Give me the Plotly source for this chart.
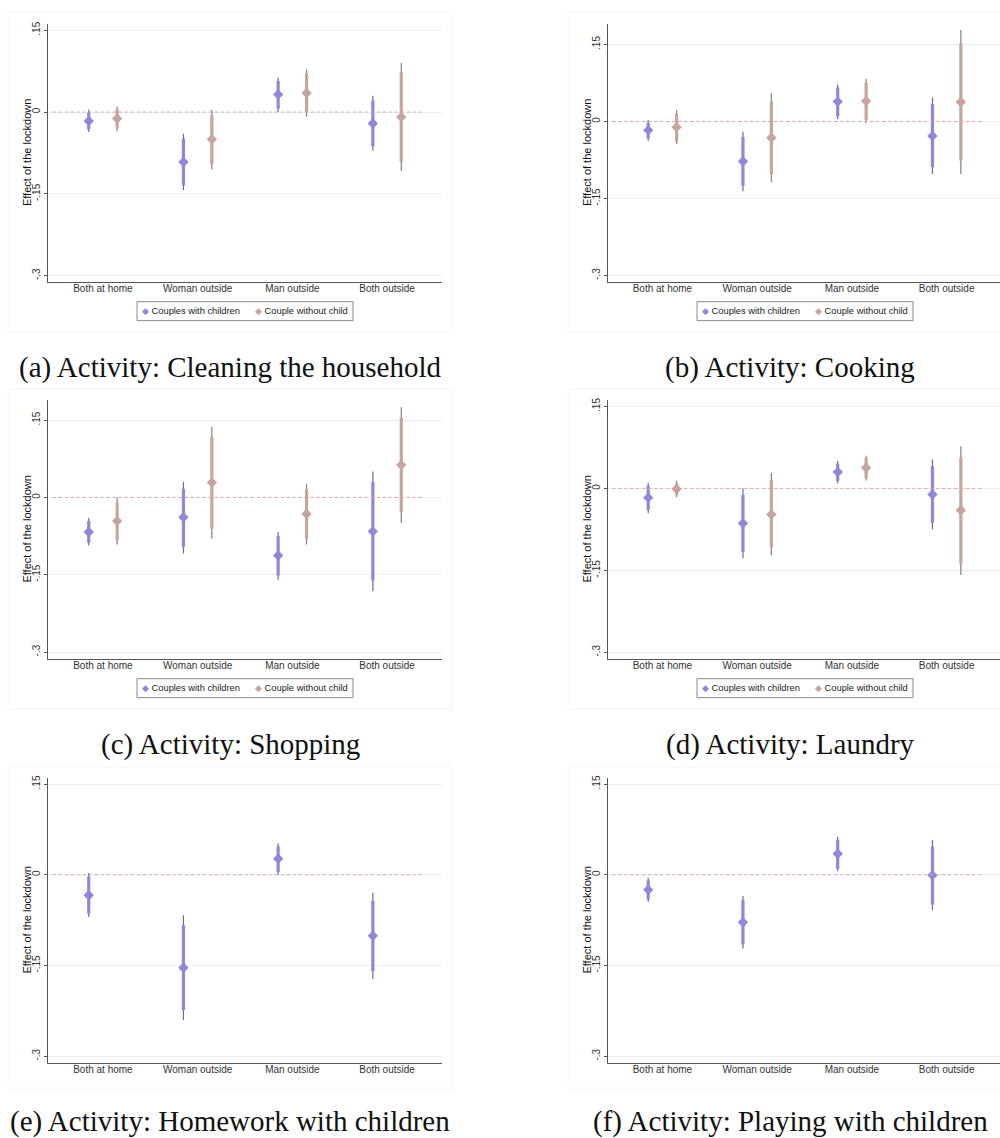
import plotly.graph_objects as go

# ---------------- data ----------------
categories = ["Both at home", "Woman outside", "Man outside", "Both outside"]
series_names = ["Couples with children", "Couple without child"]

y_tick_vals = [0.15, 0, -0.15, -0.3]
y_tick_text = [".15", "0", "-.15", "-.3"]

captions = [
    "(a) Activity: Cleaning the household",
    "(b) Activity: Cooking",
    "(c) Activity: Shopping",
    "(d) Activity: Laundry",
    "(e) Activity: Homework with children",
    "(f) Activity: Playing with children",
]

# (a) Cleaning
clean_kids_coef = [-0.0165, -0.0915, 0.032, -0.021]
clean_kids_lo90 = [-0.032, -0.134, 0.006, -0.063]
clean_kids_hi90 = [-0.001, -0.049, 0.057, 0.021]
clean_kids_lo95 = [-0.0366, -0.143, 0.0, -0.071]
clean_kids_hi95 = [0.004, -0.040, 0.063, 0.030]
clean_nokid_coef = [-0.012, -0.050, 0.035, -0.009]
clean_nokid_lo90 = [-0.030, -0.096, -0.001, -0.091]
clean_nokid_hi90 = [0.005, -0.006, 0.071, 0.073]
clean_nokid_lo95 = [-0.035, -0.105, -0.0085, -0.108]
clean_nokid_hi95 = [0.0098, 0.004, 0.078, 0.090]

# (b) Cooking
cook_kids_coef = [-0.0168, -0.0776, 0.0388, -0.028]
cook_kids_lo90 = [-0.033, -0.125, 0.0097, -0.089]
cook_kids_hi90 = [-0.002, -0.030, 0.066, 0.0336]
cook_kids_lo95 = [-0.0375, -0.136, 0.0045, -0.102]
cook_kids_hi95 = [0.003, -0.020, 0.072, 0.0466]
cook_nokid_coef = [-0.011, -0.0317, 0.040, 0.038]
cook_nokid_lo90 = [-0.039, -0.103, 0.003, -0.076]
cook_nokid_hi90 = [0.0155, 0.0388, 0.0756, 0.152]
cook_nokid_lo95 = [-0.044, -0.118, -0.003, -0.102]
cook_nokid_hi95 = [0.022, 0.055, 0.083, 0.178]

# (c) Shopping
shop_kids_coef = [-0.067, -0.0387, -0.1128, -0.066]
shop_kids_lo90 = [-0.088, -0.096, -0.1515, -0.161]
shop_kids_hi90 = [-0.046, 0.0168, -0.0754, 0.0297]
shop_kids_lo95 = [-0.0935, -0.109, -0.160, -0.182]
shop_kids_hi95 = [-0.040, 0.0297, -0.067, 0.050]
shop_nokid_coef = [-0.046, 0.029, -0.032, 0.063]
shop_nokid_lo90 = [-0.084, -0.0606, -0.0806, -0.029]
shop_nokid_hi90 = [-0.0097, 0.1167, 0.016, 0.1547]
shop_nokid_lo95 = [-0.0915, -0.080, -0.0915, -0.0496]
shop_nokid_hi95 = [0.0, 0.137, 0.026, 0.1747]

# (d) Laundry
laun_kids_coef = [-0.017, -0.064, 0.030, -0.011]
laun_kids_lo90 = [-0.040, -0.1165, 0.0134, -0.0628]
laun_kids_hi90 = [0.0043, -0.012, 0.045, 0.041]
laun_kids_lo95 = [-0.0457, -0.128, 0.009, -0.075]
laun_kids_hi95 = [0.0104, 0.0, 0.050, 0.053]
laun_nokid_coef = [-0.0012, -0.0476, 0.0378, -0.040]
laun_nokid_lo90 = [-0.012, -0.1085, 0.018, -0.1378]
laun_nokid_hi90 = [0.009, 0.0152, 0.056, 0.056]
laun_nokid_lo95 = [-0.016, -0.1226, 0.0146, -0.1585]
laun_nokid_hi95 = [0.0134, 0.0287, 0.060, 0.0774]

# (e) Homework with children
home_kids_coef = [-0.034, -0.1538, 0.0264, -0.101]
home_kids_lo90 = [-0.064, -0.2236, 0.0044, -0.159]
home_kids_hi90 = [-0.0027, -0.0835, 0.047, -0.0434]
home_kids_lo95 = [-0.0698, -0.240, 0.0, -0.1725]
home_kids_hi95 = [0.0027, -0.067, 0.052, -0.0297]

# (f) Playing with children
play_kids_coef = [-0.0247, -0.0785, 0.0346, -0.001]
play_kids_lo90 = [-0.041, -0.115, 0.0099, -0.049]
play_kids_hi90 = [-0.0093, -0.042, 0.0577, 0.0467]
play_kids_lo95 = [-0.045, -0.122, 0.006, -0.0588]
play_kids_hi95 = [-0.005, -0.035, 0.063, 0.0577]

# ---------------- styling ----------------
PURPLE = "#8e88da"
PURPLE_THIN = "#6c6a9a"
BROWN = "#c6a59d"
BROWN_THIN = "#8d7c78"
GRID = "#e8f0f1"
AXIS = "#555555"
SANS = "Arial, Liberation Sans, sans-serif"
SERIF = "Liberation Serif, serif"

W, H = 1000, 1138

panels = [
    dict(box=(48, 442, 21, 280), yr=(-0.312, 0.1615), xr=(0.42, 4.58),
         series=[(clean_kids_coef, clean_kids_lo90, clean_kids_hi90, clean_kids_lo95, clean_kids_hi95),
                 (clean_nokid_coef, clean_nokid_lo90, clean_nokid_hi90, clean_nokid_lo95, clean_nokid_hi95)],
         leg=(245, 309), region=(8, 452, 9, 330), cap=(230, 365)),
    dict(box=(608, 1000, 21, 280), yr=(-0.313, 0.19), xr=(0.4256, 4.563),
         series=[(cook_kids_coef, cook_kids_lo90, cook_kids_hi90, cook_kids_lo95, cook_kids_hi95),
                 (cook_nokid_coef, cook_nokid_lo90, cook_nokid_hi90, cook_nokid_lo95, cook_nokid_hi95)],
         leg=(805, 309), region=(568, 1003, 9, 330), cap=(790, 365)),
    dict(box=(48, 442, 398, 658), yr=(-0.314, 0.189), xr=(0.42, 4.58),
         series=[(shop_kids_coef, shop_kids_lo90, shop_kids_hi90, shop_kids_lo95, shop_kids_hi95),
                 (shop_nokid_coef, shop_nokid_lo90, shop_nokid_hi90, shop_nokid_lo95, shop_nokid_hi95)],
         leg=(245, 687), region=(8, 452, 387, 708), cap=(230, 743)),
    dict(box=(608, 1000, 398, 658), yr=(-0.313, 0.162), xr=(0.4256, 4.563),
         series=[(laun_kids_coef, laun_kids_lo90, laun_kids_hi90, laun_kids_lo95, laun_kids_hi95),
                 (laun_nokid_coef, laun_nokid_lo90, laun_nokid_hi90, laun_nokid_lo95, laun_nokid_hi95)],
         leg=(805, 687), region=(568, 1003, 387, 708), cap=(790, 743)),
    dict(box=(48, 442, 777, 1063), yr=(-0.3115, 0.16), xr=(0.42, 4.58),
         series=[(home_kids_coef, home_kids_lo90, home_kids_hi90, home_kids_lo95, home_kids_hi95)],
         leg=None, region=(8, 452, 766, 1088), cap=(230, 1121)),
    dict(box=(608, 1000, 777, 1063), yr=(-0.3115, 0.16), xr=(0.4256, 4.563),
         series=[(play_kids_coef, play_kids_lo90, play_kids_hi90, play_kids_lo95, play_kids_hi95)],
         leg=None, region=(568, 1003, 766, 1088), cap=(790, 1121)),
]

offsets = [-0.15, 0.15]
colors = [(PURPLE, PURPLE_THIN), (BROWN, BROWN_THIN)]


def px_x(v):
    return v / W


def px_y(v):
    return 1 - v / H


fig = go.Figure()
shapes = []
annotations = []
layout_axes = {}

for i, p in enumerate(panels):
    n = i + 1
    xa = "x" if n == 1 else f"x{n}"
    ya = "y" if n == 1 else f"y{n}"
    l, r, t, b = p["box"]
    layout_axes["xaxis" if n == 1 else f"xaxis{n}"] = dict(
        domain=[px_x(l), px_x(r)], anchor=ya, range=list(p["xr"]),
        tickmode="array", tickvals=[1, 2, 3, 4], ticktext=categories,
        showgrid=False, zeroline=False, showline=True, linecolor=AXIS, linewidth=1.2,
        ticks="", ticklabelstandoff=-3,
        tickfont=dict(family=SANS, size=10, color="#333333"),
        fixedrange=True,
    )
    layout_axes["yaxis" if n == 1 else f"yaxis{n}"] = dict(
        domain=[px_y(b), px_y(t)], anchor=xa, range=list(p["yr"]),
        tickmode="array", tickvals=y_tick_vals, ticktext=y_tick_text, tickangle=-90,
        showgrid=True, gridcolor=GRID, gridwidth=1, zeroline=False,
        showline=True, linecolor=AXIS, linewidth=1.2,
        ticks="outside", ticklen=3, tickcolor=AXIS,
        tickfont=dict(family=SANS, size=10, color="#333333"),
        fixedrange=True,
    )

    # zero reference line (dotted)
    shapes.append(dict(type="line", xref=xa, yref=ya, x0=0.47, x1=4.38, y0=0, y1=0,
                       line=dict(color="#e3a0a4", width=1, dash="dot"), layer="above"))
    # faint graph region frame
    rl, rr, rt, rb = p["region"]
    shapes.append(dict(type="rect", xref="paper", yref="paper",
                       x0=px_x(rl), x1=px_x(rr), y0=px_y(rb), y1=px_y(rt),
                       line=dict(color="#f4f4f4", width=1), layer="below"))

    for s, (coef, lo90, hi90, lo95, hi95) in enumerate(p["series"]):
        col, thin = colors[s]
        xs = [k + 1 + offsets[s] for k in range(len(categories))]
        x_seg, y95, y90 = [], [], []
        for k in range(len(categories)):
            x_seg += [xs[k], xs[k], None]
            y95 += [lo95[k], hi95[k], None]
            y90 += [lo90[k], hi90[k], None]
        fig.add_trace(go.Scatter(x=x_seg, y=y95, mode="lines", xaxis=xa, yaxis=ya,
                                 line=dict(color=thin, width=1.2), showlegend=False,
                                 hoverinfo="skip"))
        fig.add_trace(go.Scatter(x=x_seg, y=y90, mode="lines", xaxis=xa, yaxis=ya,
                                 line=dict(color=col, width=3.2), showlegend=False,
                                 hoverinfo="skip"))
        fig.add_trace(go.Scatter(x=xs, y=coef, mode="markers", xaxis=xa, yaxis=ya,
                                 name=series_names[s], showlegend=False,
                                 marker=dict(symbol="diamond", size=8, color=col,
                                             line=dict(width=0))))

    # y-axis title
    annotations.append(dict(text="Effect of the lockdown", xref="paper", yref="paper",
                            x=px_x(l - 21), y=px_y((t + b) / 2), textangle=-90,
                            showarrow=False, xanchor="center", yanchor="middle",
                            font=dict(family=SANS, size=11, color="#111111")))
    # caption
    cx, cy = p["cap"]
    annotations.append(dict(text=captions[i], xref="paper", yref="paper",
                            x=px_x(cx), y=px_y(cy), showarrow=False,
                            xanchor="center", yanchor="middle",
                            font=dict(family=SERIF, size=29, color="#111111")))

    # legend box (Stata-style, below plot)
    if p["leg"] is not None:
        lx, ly = p["leg"]
        shapes.append(dict(type="rect", xref="paper", yref="paper",
                           x0=px_x(lx - 108), x1=px_x(lx + 108),
                           y0=px_y(ly + 9.5), y1=px_y(ly - 9.5),
                           line=dict(color="#8a8a8a", width=1), fillcolor="white",
                           layer="above"))
        for s, dx in enumerate([-105, 8]):
            col = colors[s][0]
            annotations.append(dict(
                text=f'<span style="color:{col}">\u25C6</span> {series_names[s]}',
                xref="paper", yref="paper", x=px_x(lx + dx), y=px_y(ly),
                showarrow=False, xanchor="left", yanchor="middle",
                font=dict(family=SANS, size=9.3, color="#222222")))

fig.update_layout(
    width=W, height=H, margin=dict(l=0, r=0, t=0, b=0),
    paper_bgcolor="white", plot_bgcolor="white", showlegend=False,
    shapes=shapes, annotations=annotations, **layout_axes,
)

fig.write_html("out.html", config={"displayModeBar": False},
               post_script="document.body.style.margin='0';")
